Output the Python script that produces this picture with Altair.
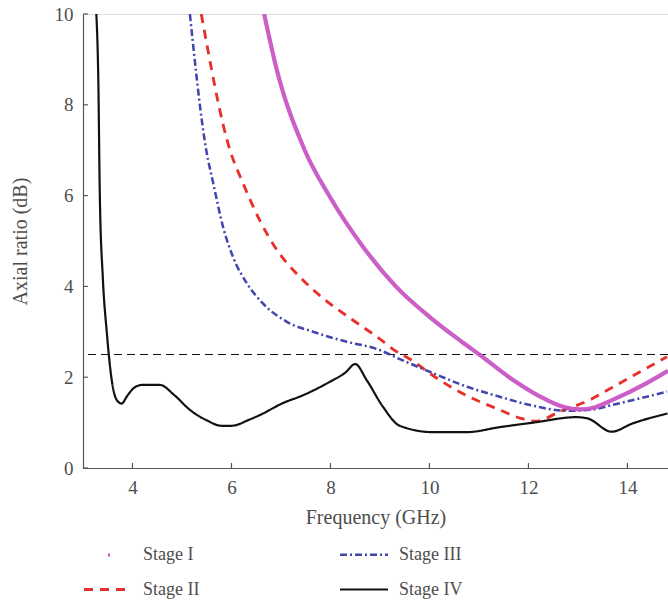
import altair as alt
import pandas as pd

FONT = "Liberation Serif"
TEXT = "#4d4d4d"
AXIS = "#555555"

# ---- data ----
stage1_f = [6.66, 6.90, 7.48, 7.99, 8.66, 9.33, 10.0, 10.68, 11.02, 11.69, 12.37, 12.7, 13.04, 13.35, 13.7, 14.39, 14.82]
stage1_v = [10.0, 8.84, 7.0, 5.97, 4.87, 3.99, 3.33, 2.76, 2.49, 1.94, 1.50, 1.35, 1.29, 1.34, 1.50, 1.87, 2.14]

stage2_f = [5.39, 5.97, 6.23, 6.57, 6.92, 7.38, 7.85, 8.45, 8.94, 9.34, 9.6, 10.2, 10.8, 11.42, 11.83, 12.15, 12.63, 13.24, 13.7, 14.8]
stage2_v = [10.0, 7.0, 6.28, 5.46, 4.8, 4.21, 3.74, 3.26, 2.89, 2.56, 2.4, 1.94, 1.57, 1.28, 1.1, 1.03, 1.24, 1.5, 1.78, 2.45]

stage3_f = [5.16, 5.49, 5.63, 5.83, 6.03, 6.31, 6.63, 7.12, 7.65, 8.33, 8.94, 9.4, 10.07, 10.76, 11.42, 12.1, 12.77, 13.3, 13.7, 14.8]
stage3_v = [10.0, 7.0, 6.28, 5.31, 4.65, 4.07, 3.63, 3.22, 3.0, 2.78, 2.62, 2.40, 2.09, 1.79, 1.57, 1.37, 1.26, 1.29, 1.39, 1.68]

stage4_f = [3.27, 3.31, 3.34, 3.40, 3.48, 3.58, 3.68, 3.78, 3.9, 4.05, 4.2, 4.55, 4.85, 5.16, 5.5, 5.8, 6.0, 6.37, 6.58, 7.04, 7.44,
            7.99, 8.3, 8.5, 8.73, 9.06, 9.4, 10.07, 10.75, 11.42, 12.1, 12.97, 13.2, 13.68, 14.1, 14.81]
stage4_v = [10.0, 8.5, 6.0, 4.2, 3.0, 1.94, 1.5, 1.42, 1.6, 1.78, 1.83, 1.83, 1.6, 1.28, 1.05, 0.93, 0.93, 1.07, 1.17, 1.43, 1.6,
            1.9, 2.1, 2.29, 1.94, 1.35, 0.93, 0.79, 0.79, 0.9, 1.0, 1.12, 1.09, 0.8, 0.98, 1.2]

ref_level = [2.5]
x_ticks = [4, 6, 8, 10, 12, 14]
y_ticks = [0, 2, 4, 6, 8, 10]

series_order = ["Stage I", "Stage II", "Stage III", "Stage IV"]
series_colors = ["#c653c2", "#e8302a", "#4346ad", "#111111"]
series_dashes = [[0, 24, 2, 400], [9, 7], [7, 3, 2, 3], [1, 0]]
series_widths = [3.2, 2.2, 2.2, 2.3]

rows = []
for name, fs, vs in [("Stage I", stage1_f, stage1_v), ("Stage II", stage2_f, stage2_v),
                     ("Stage III", stage3_f, stage3_v), ("Stage IV", stage4_f, stage4_v)]:
    for f, v in zip(fs, vs):
        rows.append({"series": name, "f": f, "ar": v})
df = pd.DataFrame(rows)
df1 = df[df.series == "Stage I"]

xscale = alt.Scale(domain=[3.0, 14.82], nice=False, zero=False)
yscale = alt.Scale(domain=[0, 10], nice=False)

legend = alt.Legend(
    title=None, orient="none", legendX=-1, legendY=515, columns=2, direction="vertical",
    columnPadding=134, rowPadding=-14, symbolType="stroke", symbolSize=2304,
    labelFont=FONT, labelFontSize=18, labelColor=TEXT, labelOffset=9,
)

xaxis = alt.Axis(values=x_ticks, ticks=False, grid=False, domainColor=AXIS, domainWidth=1.2,
                 labelFont=FONT, labelFontSize=19, labelColor=TEXT, labelPadding=10,
                 title="Frequency (GHz)", titleFont=FONT, titleFontSize=20, titleColor=TEXT,
                 titleFontWeight="normal", titlePadding=10)
yaxis = alt.Axis(values=y_ticks, ticks=False, grid=False, domainColor=AXIS, domainWidth=1.2,
                 labelFont=FONT, labelFontSize=19, labelColor=TEXT, labelPadding=10,
                 title="Axial ratio (dB)", titleFont=FONT, titleFontSize=20, titleColor=TEXT,
                 titleFontWeight="normal", titlePadding=24)

lines = alt.Chart(df).mark_line(interpolate="monotone", clip=True).encode(
    x=alt.X("f:Q", scale=xscale, axis=xaxis),
    y=alt.Y("ar:Q", scale=yscale, axis=yaxis),
    color=alt.Color("series:N", scale=alt.Scale(domain=series_order, range=series_colors), legend=legend),
    strokeDash=alt.StrokeDash("series:N", scale=alt.Scale(domain=series_order, range=series_dashes), legend=legend),
    strokeWidth=alt.StrokeWidth("series:N", scale=alt.Scale(domain=series_order, range=series_widths), legend=legend),
    detail="series:N",
)

stage1 = alt.Chart(df1).mark_line(interpolate="monotone", clip=True, strokeWidth=4.2,
                                  color="#c855c4", opacity=0.95).encode(
    x=alt.X("f:Q", scale=xscale),
    y=alt.Y("ar:Q", scale=yscale),
)

ref = alt.Chart(pd.DataFrame({"v": ref_level})).mark_rule(
    color="#111111", strokeDash=[8, 5], strokeWidth=1.2).encode(y=alt.Y("v:Q", scale=yscale))

xt = alt.Chart(pd.DataFrame({"t": x_ticks, "y0": [0] * len(x_ticks), "y1": [0.11] * len(x_ticks)})).mark_rule(
    color=AXIS, strokeWidth=1.2).encode(x=alt.X("t:Q", scale=xscale), y=alt.Y("y0:Q", scale=yscale), y2="y1:Q")
yt = alt.Chart(pd.DataFrame({"t": y_ticks, "x0": [3.0] * len(y_ticks), "x1": [3.1] * len(y_ticks)})).mark_rule(
    color=AXIS, strokeWidth=1.2).encode(y=alt.Y("t:Q", scale=yscale), x=alt.X("x0:Q", scale=xscale), x2="x1:Q")

chart = alt.layer(ref, lines, stage1, xt, yt).properties(
    width=585, height=454,
    padding={"left": 83, "top": 14, "right": 0, "bottom": 135},
    autosize=alt.AutoSizeParams(type="none"),
).configure_view(stroke=None).configure(background="white")

chart.save("out.html", embed_options={"renderer": "svg", "actions": False})
